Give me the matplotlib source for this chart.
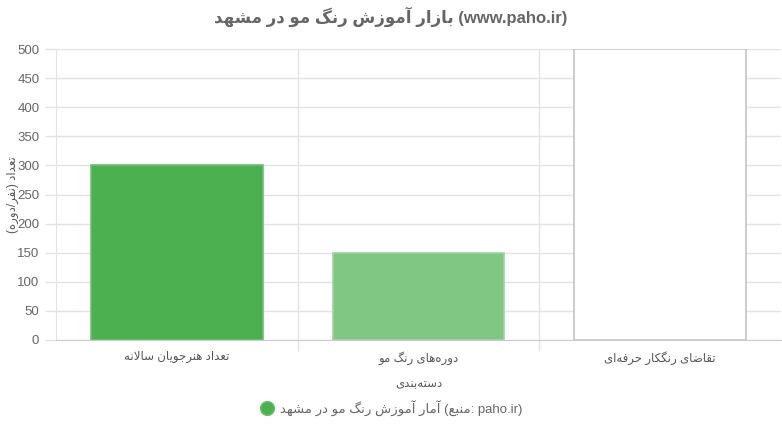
import matplotlib
matplotlib.use("Agg")
import matplotlib.pyplot as plt
from matplotlib.lines import Line2D

# --- data ---
categories = ["تعداد هنرجویان سالانه", "دوره‌های رنگ مو", "تقاضای رنگکار حرفه‌ای"]
values = [300, 150, 500]
bar_colors = ["#4CAF50", "#81C784", "#FFFFFF"]
edge_colors = ["#6FBF73", "#9ED3A0", "#C4C4C4"]
y_ticks = [0, 50, 100, 150, 200, 250, 300, 350, 400, 450, 500]

title_fa = "بازار آموزش رنگ مو در مشهد"
title_site = "(www.paho.ir)"
ylabel_fa = "تعداد (نفر/دوره)"
xlabel_fa = "دسته‌بندی"
legend_fa = "آمار آموزش رنگ مو در مشهد"
legend_src = "منبع"

# --- minimal persian shaping (matplotlib draws glyphs in string order, no joining) ---
# letter: (isolated, final, initial, medial); None -> does not join forward
FORMS = {
    "ا": (0xFE8D, 0xFE8E, None, None),
    "آ": (0xFE81, 0xFE82, None, None),
    "ب": (0xFE8F, 0xFE90, 0xFE91, 0xFE92),
    "پ": (0xFB56, 0xFB57, 0xFB58, 0xFB59),
    "ت": (0xFE95, 0xFE96, 0xFE97, 0xFE98),
    "ج": (0xFE9D, 0xFE9E, 0xFE9F, 0xFEA0),
    "ح": (0xFEA1, 0xFEA2, 0xFEA3, 0xFEA4),
    "د": (0xFEA9, 0xFEAA, None, None),
    "ر": (0xFEAD, 0xFEAE, None, None),
    "ز": (0xFEAF, 0xFEB0, None, None),
    "س": (0xFEB1, 0xFEB2, 0xFEB3, 0xFEB4),
    "ش": (0xFEB5, 0xFEB6, 0xFEB7, 0xFEB8),
    "ض": (0xFEBD, 0xFEBE, 0xFEBF, 0xFEC0),
    "ع": (0xFEC9, 0xFECA, 0xFECB, 0xFECC),
    "ف": (0xFED1, 0xFED2, 0xFED3, 0xFED4),
    "ق": (0xFED5, 0xFED6, 0xFED7, 0xFED8),
    "ک": (0xFB8E, 0xFB8F, 0xFB90, 0xFB91),
    "گ": (0xFB92, 0xFB93, 0xFB94, 0xFB95),
    "ل": (0xFEDD, 0xFEDE, 0xFEDF, 0xFEE0),
    "م": (0xFEE1, 0xFEE2, 0xFEE3, 0xFEE4),
    "ن": (0xFEE5, 0xFEE6, 0xFEE7, 0xFEE8),
    "ه": (0xFEE9, 0xFEEA, 0xFEEB, 0xFEEC),
    "و": (0xFEED, 0xFEEE, None, None),
    "ی": (0xFBFC, 0xFBFD, 0xFBFE, 0xFBFF),
}
MIRROR = {"(": ")", ")": "("}


def joins_forward(c):
    return c in FORMS and FORMS[c][2] is not None


def shape(text):
    """join letters and reverse into visual (left-to-right) order"""
    out = []
    i = 0
    n = len(text)
    while i < n:
        c = text[i]
        if c == "\u200c":
            i += 1
            continue
        if c not in FORMS:
            out.append(MIRROR.get(c, c))
            i += 1
            continue
        prev = text[i - 1] if i > 0 else ""
        nxt = text[i + 1] if i + 1 < n else ""
        jp = joins_forward(prev)
        if c == "ل" and nxt in ("ا", "آ"):
            if nxt == "ا":
                out.append(chr(0xFEFC if jp else 0xFEFB))
            else:
                out.append(chr(0xFEF6 if jp else 0xFEF5))
            i += 2
            continue
        jn = joins_forward(c) and nxt in FORMS
        iso, fin, ini, med = FORMS[c]
        if jp and jn:
            code = med
        elif jp:
            code = fin
        elif jn:
            code = ini
        else:
            code = iso
        out.append(chr(code))
        i += 1
    return "".join(reversed(out))


plt.rcParams["font.family"] = ["Liberation Sans", "DejaVu Sans"]
TXT = "#666666"
GRID = "#E3E3E3"

fig = plt.figure(figsize=(7.82, 4.25), dpi=100)
ax = fig.add_axes([56 / 782, 85 / 425, 725 / 782, 291 / 425])

x = list(range(len(categories)))
ax.bar(x, values, width=0.71, color=bar_colors, edgecolor=edge_colors,
       linewidth=1.2, zorder=3)

ax.set_xlim(-0.5, len(categories) - 0.5)
ax.set_ylim(0, 500)
ax.set_yticks(y_ticks)
ax.set_yticklabels([str(v) for v in y_ticks], color=TXT, fontsize=9.5)
ax.set_xticks(x)
ax.set_xticklabels([shape(c) for c in categories], color="#555555", fontsize=8.5)
ax.set_xticks([0.5, 1.5], minor=True)

ax.tick_params(axis="x", which="major", length=0, pad=8)
ax.tick_params(axis="x", which="minor", length=8, color=GRID, width=1)
ax.tick_params(axis="y", length=8, color=GRID, width=1, pad=4)

ax.grid(axis="y", color=GRID, linewidth=1, zorder=0)
ax.grid(axis="x", which="minor", color=GRID, linewidth=1, zorder=0)

for side in ("top", "right"):
    ax.spines[side].set_visible(False)
ax.spines["left"].set_color(GRID)
ax.spines["bottom"].set_color("#CCCCCC")

ax.set_ylabel(shape(ylabel_fa), color="#555555", fontsize=8.5)
ax.yaxis.set_label_coords(-37 / 725, 0.5)
ax.set_xlabel(shape(xlabel_fa), color="#555555", fontsize=8.5, labelpad=10)

fig.text(0.5, 1 - 17 / 425, shape(title_fa) + " " + title_site,
         ha="center", va="center", fontsize=12, fontweight="bold", color=TXT)

handle = Line2D([], [], linestyle="none", marker="o", markersize=10,
                markerfacecolor="#4CAF50", markeredgecolor="#6FBF73")
leg_label = shape(legend_fa) + " (" + shape(legend_src) + ": paho.ir)"
fig.legend([handle], [leg_label], loc="center", bbox_to_anchor=(0.5, 1 - 408 / 425),
           frameon=False, fontsize=9.5, labelcolor=TXT, handletextpad=0.4,
           handlelength=1.2)

fig.savefig("out.png", dpi=100)
